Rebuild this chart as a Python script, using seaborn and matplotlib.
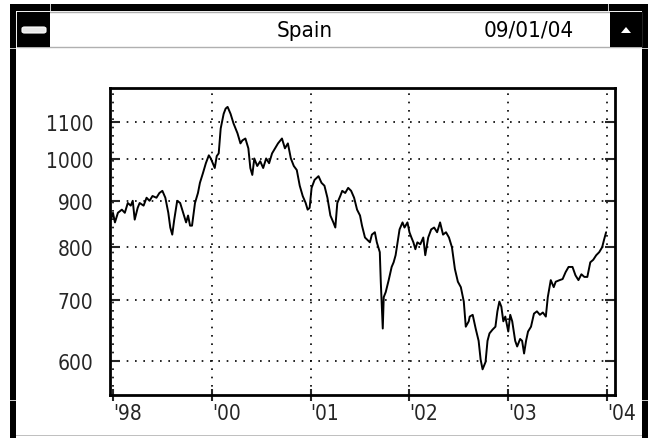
import matplotlib
matplotlib.use("Agg")
import matplotlib.pyplot as plt
import seaborn as sns
from matplotlib.patches import Rectangle, FancyBboxPatch, Polygon
from matplotlib.ticker import NullLocator

# x position in tick units ('98 = 0 ... '04 = 5), index level
xpos = [-0.03, -0.02, 0.00, 0.02, 0.05, 0.09, 0.12, 0.15, 0.18, 0.20, 0.22, 0.25, 0.27, 0.31, 0.34,
        0.37, 0.40, 0.44, 0.47, 0.50, 0.53, 0.56, 0.58, 0.60, 0.62, 0.65, 0.68, 0.71, 0.74, 0.76,
        0.78, 0.80, 0.83, 0.86, 0.88, 0.91, 0.94, 0.97, 0.99, 1.01, 1.03, 1.05, 1.07, 1.09, 1.12,
        1.14, 1.16, 1.19, 1.22, 1.26, 1.29, 1.31, 1.34, 1.37, 1.39, 1.41, 1.43, 1.46, 1.49, 1.52,
        1.55, 1.58, 1.61, 1.64, 1.67, 1.71, 1.74, 1.77, 1.80, 1.83, 1.86, 1.89, 1.92, 1.95, 1.97,
        1.99, 2.01, 2.04, 2.08, 2.11, 2.14, 2.17, 2.20, 2.23, 2.25, 2.27, 2.30, 2.32, 2.35, 2.38,
        2.41, 2.44, 2.47, 2.50, 2.52, 2.55, 2.57, 2.60, 2.62, 2.65, 2.67, 2.70, 2.71, 2.73, 2.74,
        2.76, 2.79, 2.82, 2.84, 2.86, 2.88, 2.90, 2.93, 2.95, 2.98, 3.00, 3.02, 3.04, 3.06, 3.08,
        3.11, 3.14, 3.16, 3.19, 3.22, 3.25, 3.28, 3.31, 3.34, 3.37, 3.40, 3.43, 3.46, 3.49, 3.52,
        3.55, 3.57, 3.60, 3.61, 3.64, 3.67, 3.70, 3.72, 3.74, 3.77, 3.79, 3.81, 3.84, 3.87, 3.89,
        3.91, 3.93, 3.95, 3.97, 4.00, 4.02, 4.04, 4.07, 4.09, 4.12, 4.14, 4.16, 4.18, 4.20, 4.23,
        4.26, 4.29, 4.32, 4.35, 4.38, 4.40, 4.43, 4.46, 4.48, 4.52, 4.55, 4.58, 4.61, 4.65, 4.68,
        4.71, 4.74, 4.77, 4.80, 4.83, 4.86, 4.89, 4.92, 4.95, 4.97, 4.99]
level = [884, 858, 873, 852, 873, 880, 873, 895, 889, 900, 858, 884, 895, 889, 907,
         900, 911, 907, 918, 923, 907, 873, 841, 826, 858, 900, 895, 873, 852, 867,
         845, 845, 895, 918, 942, 965, 990, 1010, 1002, 990, 978, 1008, 1015, 1081, 1122,
         1137, 1142, 1122, 1095, 1068, 1041, 1049, 1054, 1028, 978, 961, 1002, 983, 995, 978,
         1002, 990, 1015, 1028, 1041, 1054, 1028, 1041, 1002, 983, 973, 935, 911, 895, 880,
         884, 930, 949, 958, 942, 935, 907, 867, 852, 841, 895, 911, 923, 918, 930,
         923, 907, 880, 867, 845, 820, 816, 810, 826, 831, 810, 790, 733, 651, 705,
         714, 736, 761, 770, 784, 810, 837, 852, 841, 852, 831, 820, 810, 796, 810,
         806, 820, 784, 820, 837, 841, 831, 852, 826, 831, 820, 800, 757, 733, 723,
         697, 654, 663, 671, 674, 651, 631, 602, 587, 598, 631, 643, 649, 654, 680,
         697, 688, 663, 671, 646, 674, 663, 631, 622, 634, 631, 611, 631, 646, 654,
         676, 680, 674, 678, 671, 705, 736, 723, 733, 736, 738, 751, 761, 761, 745,
         736, 747, 742, 742, 770, 775, 784, 790, 800, 816, 831]

year_ticks = [0, 1, 2, 3, 4, 5]
year_labels = ["'98", "'00", "'01", "'02", "'03", "'04"]
level_ticks = [600, 700, 800, 900, 1000, 1100]

sns.set_style("white")
plt.rcParams['font.family'] = ['DejaVu Sans']
plt.rcParams['font.stretch'] = 'condensed'

W, H = 655, 439
fig = plt.figure(figsize=(6.55, 4.39), dpi=100)
fig.patch.set_facecolor('white')


def box(x0, y0, x1, y1, **kw):
    # rectangle given in pixel coords (top-left origin)
    r = Rectangle((x0 / W, 1 - y1 / H), (x1 - x0) / W, (y1 - y0) / H,
                  transform=fig.transFigure, **kw)
    fig.add_artist(r)


# window frame
box(10, 5, 648, 12, color='black', lw=0)
box(10, 5, 16, 439, color='black', lw=0)
box(642, 5, 648, 439, color='black', lw=0)
box(17, 13, 641, 48, facecolor='white', edgecolor='#b0b0b0', lw=1)
for gx in (50, 608):
    box(gx, 5, gx + 1, 12, color='#c8c8c8', lw=0)
for gy in (49, 401):
    box(10, gy, 16, gy + 1, color='#c8c8c8', lw=0)
    box(642, gy, 648, gy + 1, color='#c8c8c8', lw=0)
box(16, 436, 642, 437, color='#c0c0c0', lw=0)

# title bar buttons
box(17, 13, 50, 48, color='black', lw=0)
fig.add_artist(FancyBboxPatch((22 / W, 1 - 34 / H), 24 / W, 6 / H,
                              boxstyle="round,pad=0,rounding_size=0.004",
                              transform=fig.transFigure, facecolor='#e8e8e8',
                              edgecolor='white', lw=0.8))
box(610, 13, 642, 48, color='black', lw=0)
fig.add_artist(Polygon([(621 / W, 1 - 34 / H), (631 / W, 1 - 34 / H), (626 / W, 1 - 28 / H)],
                       closed=True, transform=fig.transFigure, color='white', lw=0))

fig.text(305 / W, 1 - 31 / H, "Spain", ha='center', va='center', fontsize=16, color='black')
fig.text(529 / W, 1 - 31 / H, "09/01/04", ha='center', va='center', fontsize=16, color='black')

# chart
ax = fig.add_axes([110 / W, 43 / H, 505 / W, 307 / H])
sns.lineplot(x=xpos, y=level, color='black', lw=1.4, estimator=None, sort=False, ax=ax)
ax.set_yscale('log')
ax.set_xlim(-0.03, 5.08)
ax.set_ylim(550, 1198)
ax.set_yticks(level_ticks)
ax.set_yticklabels([str(v) for v in level_ticks])
ax.yaxis.set_minor_locator(NullLocator())
ax.set_xticks(year_ticks)
ax.set_xticklabels(year_labels, ha='left')
ax.grid(True, color='black', linestyle=(0, (1, 4)), lw=1.2)
ax.tick_params(axis='y', direction='in', length=7, width=1.5, left=True, right=True,
               labelsize=15, pad=12)
ax.tick_params(axis='x', direction='inout', length=8, width=1.5, bottom=True,
               labelsize=15, pad=2)
for s in ax.spines.values():
    s.set_color('black')
    s.set_linewidth(2)
ax.set_xlabel('')
ax.set_ylabel('')

fig.savefig('out.png', dpi=100)
